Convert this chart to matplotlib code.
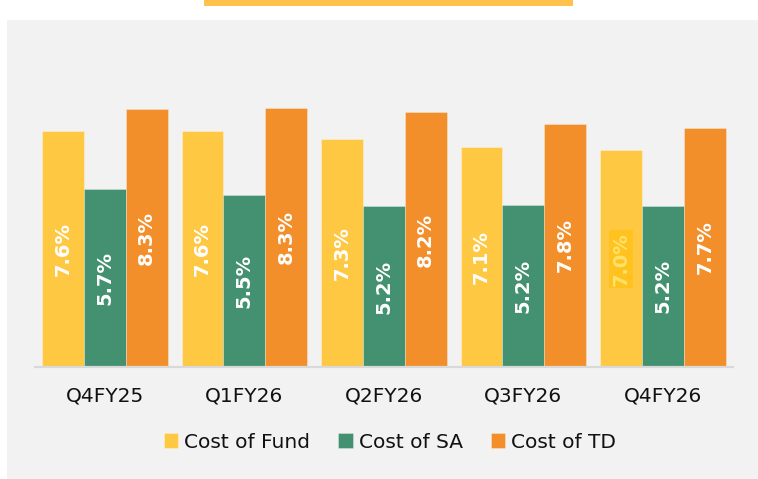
import matplotlib
matplotlib.use("Agg")
import matplotlib.pyplot as plt
from matplotlib.patches import Rectangle
import numpy as np

quarters = ["Q4FY25", "Q1FY26", "Q2FY26", "Q3FY26", "Q4FY26"]
cost_of_fund = [7.60, 7.60, 7.35, 7.08, 6.97]
cost_of_sa = [5.73, 5.53, 5.17, 5.21, 5.19]
cost_of_td = [8.30, 8.34, 8.20, 7.83, 7.69]
series_names = ["Cost of Fund", "Cost of SA", "Cost of TD"]

colors = ["#FFC843", "#439170", "#F38F2B"]

W, H = 758, 479
fig = plt.figure(figsize=(W / 100, H / 100), dpi=100, facecolor="white")

# grey panel and yellow top strip
fig.patches.append(Rectangle((7 / W, 0), (W - 7) / W, (H - 20) / H,
                             transform=fig.transFigure, facecolor="#F2F2F2",
                             edgecolor="none", zorder=-2))
fig.patches.append(Rectangle((204 / W, (H - 6) / H), (573 - 204) / W, 6 / H,
                             transform=fig.transFigure, facecolor="#FFC34D",
                             edgecolor="none", zorder=-2))

left, right, bottom = 35, 732.7, 367
ymax = 9.0
px_per_unit = 31.07
top = bottom - ymax * px_per_unit
ax = fig.add_axes([left / W, (H - bottom) / H, (right - left) / W, (bottom - top) / H])
ax.set_facecolor("none")
ax.set_zorder(2)

x = np.arange(len(quarters))
w = 0.3
data = [cost_of_fund, cost_of_sa, cost_of_td]
for i, (vals, c, name) in enumerate(zip(data, colors, series_names)):
    bars = ax.bar(x + (i - 1) * w, vals, width=w, color=c, label=name,
                  edgecolor=(1, 1, 1, 0.35), linewidth=0.6, zorder=2)
    for j, (b, v) in enumerate(zip(bars, vals)):
        cx = b.get_x() + b.get_width() / 2
        cy = v / 2
        if i == 0 and j == 4:
            ax.text(cx, cy, f"{v:.1f}%", rotation=90, ha="center", va="center",
                    color="#FFE16B", fontsize=14, fontweight="bold", zorder=3,
                    bbox=dict(boxstyle="square,pad=0.12", facecolor="#FFC21F",
                              edgecolor="none"))
        else:
            ax.text(cx, cy, f"{v:.1f}%", rotation=90, ha="center", va="center",
                    color="white", fontsize=14, fontweight="bold", zorder=3)

ax.set_xlim(-0.5, len(quarters) - 0.5)
ax.set_ylim(0, ymax)
ax.set_xticks(x)
ax.set_xticklabels(quarters, fontsize=14.5, color="#111111")
ax.tick_params(axis="x", length=0, pad=14)
ax.set_yticks([])
for s in ["top", "right", "left"]:
    ax.spines[s].set_visible(False)
ax.spines["bottom"].set_color("#D9D9D9")
ax.spines["bottom"].set_linewidth(1.6)

leg = fig.legend(loc="center", bbox_to_anchor=(390 / W, (H - 442) / H), ncol=3,
                 frameon=False, fontsize=14.5, handlelength=0.7, handleheight=0.7,
                 handletextpad=0.3, columnspacing=1.4, borderaxespad=0)
for t in leg.get_texts():
    t.set_color("#111111")

fig.savefig("out.png", dpi=100, facecolor="white")
